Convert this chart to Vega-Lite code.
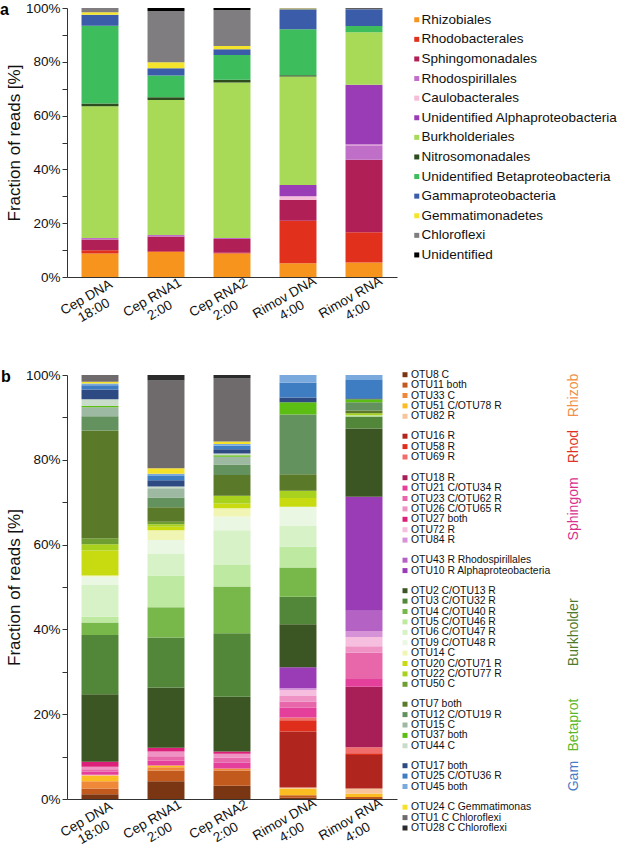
{
  "$schema": "https://vega.github.io/schema/vega-lite/v6.json",
  "padding": {"left": 0, "top": 1, "right": 0, "bottom": 0},
  "config": {
    "font": "Liberation Sans",
    "view": {"stroke": null},
    "axis": {"domainColor": "#333", "tickColor": "#333", "labelColor": "#111", "titleColor": "#111", "labelFontSize": 13.5, "titleFontWeight": "normal", "grid": false},
    "title": {"fontSize": 16, "fontWeight": "bold", "color": "#000", "anchor": "start", "frame": "group"}
  },
  "datasets": {
    "a": [
      {"s": "Cep DNA|18:00", "t": "Rhizobiales", "v": 8.7},
      {"s": "Cep DNA|18:00", "t": "Rhodobacterales", "v": 1.2},
      {"s": "Cep DNA|18:00", "t": "Sphingomonadales", "v": 4.0},
      {"s": "Cep DNA|18:00", "t": "Rhodospirillales", "v": 0.6},
      {"s": "Cep DNA|18:00", "t": "Burkholderiales", "v": 49.0},
      {"s": "Cep DNA|18:00", "t": "Nitrosomonadales", "v": 1.0},
      {"s": "Cep DNA|18:00", "t": "Unidentified Betaproteobacteria", "v": 28.9},
      {"s": "Cep DNA|18:00", "t": "Gammaproteobacteria", "v": 4.1},
      {"s": "Cep DNA|18:00", "t": "Gemmatimonadetes", "v": 0.9},
      {"s": "Cep DNA|18:00", "t": "Chloroflexi", "v": 1.6},
      {"s": "Cep RNA1|2:00", "t": "Rhizobiales", "v": 9.3},
      {"s": "Cep RNA1|2:00", "t": "Rhodobacterales", "v": 0.3},
      {"s": "Cep RNA1|2:00", "t": "Sphingomonadales", "v": 5.5},
      {"s": "Cep RNA1|2:00", "t": "Rhodospirillales", "v": 0.5},
      {"s": "Cep RNA1|2:00", "t": "Burkholderiales", "v": 50.2},
      {"s": "Cep RNA1|2:00", "t": "Nitrosomonadales", "v": 1.0},
      {"s": "Cep RNA1|2:00", "t": "Unidentified Betaproteobacteria", "v": 8.1},
      {"s": "Cep RNA1|2:00", "t": "Gammaproteobacteria", "v": 2.7},
      {"s": "Cep RNA1|2:00", "t": "Gemmatimonadetes", "v": 2.2},
      {"s": "Cep RNA1|2:00", "t": "Chloroflexi", "v": 19.1},
      {"s": "Cep RNA1|2:00", "t": "Unidentified", "v": 1.1},
      {"s": "Cep RNA2|2:00", "t": "Rhizobiales", "v": 8.7},
      {"s": "Cep RNA2|2:00", "t": "Rhodobacterales", "v": 0.3},
      {"s": "Cep RNA2|2:00", "t": "Sphingomonadales", "v": 5.1},
      {"s": "Cep RNA2|2:00", "t": "Rhodospirillales", "v": 0.4},
      {"s": "Cep RNA2|2:00", "t": "Burkholderiales", "v": 57.8},
      {"s": "Cep RNA2|2:00", "t": "Nitrosomonadales", "v": 1.0},
      {"s": "Cep RNA2|2:00", "t": "Unidentified Betaproteobacteria", "v": 9.2},
      {"s": "Cep RNA2|2:00", "t": "Gammaproteobacteria", "v": 2.2},
      {"s": "Cep RNA2|2:00", "t": "Gemmatimonadetes", "v": 1.2},
      {"s": "Cep RNA2|2:00", "t": "Chloroflexi", "v": 13.4},
      {"s": "Cep RNA2|2:00", "t": "Unidentified", "v": 0.7},
      {"s": "Rimov DNA|4:00", "t": "Rhizobiales", "v": 5.1},
      {"s": "Rimov DNA|4:00", "t": "Rhodobacterales", "v": 15.8},
      {"s": "Rimov DNA|4:00", "t": "Sphingomonadales", "v": 7.8},
      {"s": "Rimov DNA|4:00", "t": "Caulobacterales", "v": 1.3},
      {"s": "Rimov DNA|4:00", "t": "Unidentified Alphaproteobacteria", "v": 4.2},
      {"s": "Rimov DNA|4:00", "t": "Burkholderiales", "v": 40.3},
      {"s": "Rimov DNA|4:00", "t": "Nitrosomonadales", "v": 0.5},
      {"s": "Rimov DNA|4:00", "t": "Unidentified Betaproteobacteria", "v": 17.1},
      {"s": "Rimov DNA|4:00", "t": "Gammaproteobacteria", "v": 7.4},
      {"s": "Rimov DNA|4:00", "t": "Gemmatimonadetes", "v": 0.3},
      {"s": "Rimov DNA|4:00", "t": "Chloroflexi", "v": 0.2},
      {"s": "Rimov RNA|4:00", "t": "Rhizobiales", "v": 5.4},
      {"s": "Rimov RNA|4:00", "t": "Rhodobacterales", "v": 11.2},
      {"s": "Rimov RNA|4:00", "t": "Sphingomonadales", "v": 27.0},
      {"s": "Rimov RNA|4:00", "t": "Rhodospirillales", "v": 5.4},
      {"s": "Rimov RNA|4:00", "t": "Caulobacterales", "v": 0.3},
      {"s": "Rimov RNA|4:00", "t": "Unidentified Alphaproteobacteria", "v": 22.2},
      {"s": "Rimov RNA|4:00", "t": "Burkholderiales", "v": 19.5},
      {"s": "Rimov RNA|4:00", "t": "Unidentified Betaproteobacteria", "v": 2.3},
      {"s": "Rimov RNA|4:00", "t": "Gammaproteobacteria", "v": 6.2},
      {"s": "Rimov RNA|4:00", "t": "Chloroflexi", "v": 0.3},
      {"s": "Rimov RNA|4:00", "t": "Unidentified", "v": 0.2}
    ],
    "otus": [
      {"o": "OTU8 C", "g": "Rhizob"},
      {"o": "OTU11 both", "g": "Rhizob"},
      {"o": "OTU33 C", "g": "Rhizob"},
      {"o": "OTU51 C/OTU78 R", "g": "Rhizob"},
      {"o": "OTU82 R", "g": "Rhizob"},
      {"o": "OTU16 R", "g": "Rhod"},
      {"o": "OTU58 R", "g": "Rhod"},
      {"o": "OTU69 R", "g": "Rhod"},
      {"o": "OTU18 R", "g": "Sphingom"},
      {"o": "OTU21 C/OTU34 R", "g": "Sphingom"},
      {"o": "OTU23 C/OTU62 R", "g": "Sphingom"},
      {"o": "OTU26 C/OTU65 R", "g": "Sphingom"},
      {"o": "OTU27 both", "g": "Sphingom"},
      {"o": "OTU72 R", "g": "Sphingom"},
      {"o": "OTU84 R", "g": "Sphingom"},
      {"o": "OTU43 R Rhodospirillales", "g": "Alpha"},
      {"o": "OTU10 R Alphaproteobacteria", "g": "Alpha"},
      {"o": "OTU2 C/OTU13 R", "g": "Burkholder"},
      {"o": "OTU3 C/OTU32 R", "g": "Burkholder"},
      {"o": "OTU4 C/OTU40 R", "g": "Burkholder"},
      {"o": "OTU5 C/OTU46 R", "g": "Burkholder"},
      {"o": "OTU6 C/OTU47 R", "g": "Burkholder"},
      {"o": "OTU9 C/OTU48 R", "g": "Burkholder"},
      {"o": "OTU14 C", "g": "Burkholder"},
      {"o": "OTU20 C/OTU71 R", "g": "Burkholder"},
      {"o": "OTU22 C/OTU77 R", "g": "Burkholder"},
      {"o": "OTU50 C", "g": "Burkholder"},
      {"o": "OTU7 both", "g": "Betaprot"},
      {"o": "OTU12 C/OTU19 R", "g": "Betaprot"},
      {"o": "OTU15 C", "g": "Betaprot"},
      {"o": "OTU37 both", "g": "Betaprot"},
      {"o": "OTU44 C", "g": "Betaprot"},
      {"o": "OTU17 both", "g": "Gam"},
      {"o": "OTU25 C/OTU36 R", "g": "Gam"},
      {"o": "OTU45 both", "g": "Gam"},
      {"o": "OTU24 C Gemmatimonas", "g": "Other"},
      {"o": "OTU1 C Chloroflexi", "g": "Other"},
      {"o": "OTU28 C Chloroflexi", "g": "Other"}
    ],
    "b": [
      {"s": "Cep DNA|18:00", "o": "OTU8 C", "v": 1.1},
      {"s": "Cep DNA|18:00", "o": "OTU11 both", "v": 1.4},
      {"s": "Cep DNA|18:00", "o": "OTU33 C", "v": 1.7},
      {"s": "Cep DNA|18:00", "o": "OTU51 C/OTU78 R", "v": 1.2},
      {"s": "Cep DNA|18:00", "o": "OTU82 R", "v": 0.3},
      {"s": "Cep DNA|18:00", "o": "OTU21 C/OTU34 R", "v": 0.7},
      {"s": "Cep DNA|18:00", "o": "OTU23 C/OTU62 R", "v": 0.6},
      {"s": "Cep DNA|18:00", "o": "OTU26 C/OTU65 R", "v": 0.6},
      {"s": "Cep DNA|18:00", "o": "OTU27 both", "v": 1.2},
      {"s": "Cep DNA|18:00", "o": "OTU2 C/OTU13 R", "v": 15.9},
      {"s": "Cep DNA|18:00", "o": "OTU3 C/OTU32 R", "v": 14.0},
      {"s": "Cep DNA|18:00", "o": "OTU4 C/OTU40 R", "v": 2.9},
      {"s": "Cep DNA|18:00", "o": "OTU5 C/OTU46 R", "v": 1.4},
      {"s": "Cep DNA|18:00", "o": "OTU6 C/OTU47 R", "v": 7.5},
      {"s": "Cep DNA|18:00", "o": "OTU9 C/OTU48 R", "v": 1.9},
      {"s": "Cep DNA|18:00", "o": "OTU14 C", "v": 0.3},
      {"s": "Cep DNA|18:00", "o": "OTU20 C/OTU71 R", "v": 5.9},
      {"s": "Cep DNA|18:00", "o": "OTU22 C/OTU77 R", "v": 1.5},
      {"s": "Cep DNA|18:00", "o": "OTU50 C", "v": 1.4},
      {"s": "Cep DNA|18:00", "o": "OTU7 both", "v": 25.4},
      {"s": "Cep DNA|18:00", "o": "OTU12 C/OTU19 R", "v": 3.4},
      {"s": "Cep DNA|18:00", "o": "OTU15 C", "v": 2.1},
      {"s": "Cep DNA|18:00", "o": "OTU37 both", "v": 0.3},
      {"s": "Cep DNA|18:00", "o": "OTU44 C", "v": 1.6},
      {"s": "Cep DNA|18:00", "o": "OTU17 both", "v": 2.3},
      {"s": "Cep DNA|18:00", "o": "OTU25 C/OTU36 R", "v": 1.0},
      {"s": "Cep DNA|18:00", "o": "OTU45 both", "v": 0.4},
      {"s": "Cep DNA|18:00", "o": "OTU24 C Gemmatimonas", "v": 0.4},
      {"s": "Cep DNA|18:00", "o": "OTU1 C Chloroflexi", "v": 1.6},
      {"s": "Cep RNA1|2:00", "o": "OTU8 C", "v": 4.2},
      {"s": "Cep RNA1|2:00", "o": "OTU11 both", "v": 2.5},
      {"s": "Cep RNA1|2:00", "o": "OTU33 C", "v": 0.8},
      {"s": "Cep RNA1|2:00", "o": "OTU51 C/OTU78 R", "v": 0.4},
      {"s": "Cep RNA1|2:00", "o": "OTU21 C/OTU34 R", "v": 1.1},
      {"s": "Cep RNA1|2:00", "o": "OTU23 C/OTU62 R", "v": 1.1},
      {"s": "Cep RNA1|2:00", "o": "OTU26 C/OTU65 R", "v": 1.1},
      {"s": "Cep RNA1|2:00", "o": "OTU27 both", "v": 0.9},
      {"s": "Cep RNA1|2:00", "o": "OTU2 C/OTU13 R", "v": 14.2},
      {"s": "Cep RNA1|2:00", "o": "OTU3 C/OTU32 R", "v": 11.8},
      {"s": "Cep RNA1|2:00", "o": "OTU4 C/OTU40 R", "v": 7.1},
      {"s": "Cep RNA1|2:00", "o": "OTU5 C/OTU46 R", "v": 7.5},
      {"s": "Cep RNA1|2:00", "o": "OTU6 C/OTU47 R", "v": 5.1},
      {"s": "Cep RNA1|2:00", "o": "OTU9 C/OTU48 R", "v": 3.3},
      {"s": "Cep RNA1|2:00", "o": "OTU14 C", "v": 2.3},
      {"s": "Cep RNA1|2:00", "o": "OTU20 C/OTU71 R", "v": 0.8},
      {"s": "Cep RNA1|2:00", "o": "OTU22 C/OTU77 R", "v": 0.6},
      {"s": "Cep RNA1|2:00", "o": "OTU50 C", "v": 0.6},
      {"s": "Cep RNA1|2:00", "o": "OTU7 both", "v": 3.4},
      {"s": "Cep RNA1|2:00", "o": "OTU12 C/OTU19 R", "v": 2.3},
      {"s": "Cep RNA1|2:00", "o": "OTU15 C", "v": 2.2},
      {"s": "Cep RNA1|2:00", "o": "OTU44 C", "v": 0.4},
      {"s": "Cep RNA1|2:00", "o": "OTU17 both", "v": 1.5},
      {"s": "Cep RNA1|2:00", "o": "OTU25 C/OTU36 R", "v": 1.0},
      {"s": "Cep RNA1|2:00", "o": "OTU45 both", "v": 0.5},
      {"s": "Cep RNA1|2:00", "o": "OTU24 C Gemmatimonas", "v": 1.3},
      {"s": "Cep RNA1|2:00", "o": "OTU1 C Chloroflexi", "v": 20.7},
      {"s": "Cep RNA1|2:00", "o": "OTU28 C Chloroflexi", "v": 1.3},
      {"s": "Cep RNA2|2:00", "o": "OTU8 C", "v": 3.1},
      {"s": "Cep RNA2|2:00", "o": "OTU11 both", "v": 3.6},
      {"s": "Cep RNA2|2:00", "o": "OTU33 C", "v": 0.5},
      {"s": "Cep RNA2|2:00", "o": "OTU21 C/OTU34 R", "v": 1.4},
      {"s": "Cep RNA2|2:00", "o": "OTU23 C/OTU62 R", "v": 1.2},
      {"s": "Cep RNA2|2:00", "o": "OTU26 C/OTU65 R", "v": 0.9},
      {"s": "Cep RNA2|2:00", "o": "OTU27 both", "v": 0.5},
      {"s": "Cep RNA2|2:00", "o": "OTU2 C/OTU13 R", "v": 12.9},
      {"s": "Cep RNA2|2:00", "o": "OTU3 C/OTU32 R", "v": 15.0},
      {"s": "Cep RNA2|2:00", "o": "OTU4 C/OTU40 R", "v": 11.0},
      {"s": "Cep RNA2|2:00", "o": "OTU5 C/OTU46 R", "v": 5.1},
      {"s": "Cep RNA2|2:00", "o": "OTU6 C/OTU47 R", "v": 8.2},
      {"s": "Cep RNA2|2:00", "o": "OTU9 C/OTU48 R", "v": 3.2},
      {"s": "Cep RNA2|2:00", "o": "OTU14 C", "v": 2.0},
      {"s": "Cep RNA2|2:00", "o": "OTU20 C/OTU71 R", "v": 1.1},
      {"s": "Cep RNA2|2:00", "o": "OTU22 C/OTU77 R", "v": 1.8},
      {"s": "Cep RNA2|2:00", "o": "OTU7 both", "v": 4.9},
      {"s": "Cep RNA2|2:00", "o": "OTU12 C/OTU19 R", "v": 2.5},
      {"s": "Cep RNA2|2:00", "o": "OTU15 C", "v": 1.8},
      {"s": "Cep RNA2|2:00", "o": "OTU37 both", "v": 0.4},
      {"s": "Cep RNA2|2:00", "o": "OTU44 C", "v": 0.4},
      {"s": "Cep RNA2|2:00", "o": "OTU17 both", "v": 1.0},
      {"s": "Cep RNA2|2:00", "o": "OTU25 C/OTU36 R", "v": 0.8},
      {"s": "Cep RNA2|2:00", "o": "OTU45 both", "v": 0.4},
      {"s": "Cep RNA2|2:00", "o": "OTU24 C Gemmatimonas", "v": 0.6},
      {"s": "Cep RNA2|2:00", "o": "OTU1 C Chloroflexi", "v": 14.9},
      {"s": "Cep RNA2|2:00", "o": "OTU28 C Chloroflexi", "v": 0.8},
      {"s": "Rimov DNA|4:00", "o": "OTU8 C", "v": 0.3},
      {"s": "Rimov DNA|4:00", "o": "OTU11 both", "v": 0.6},
      {"s": "Rimov DNA|4:00", "o": "OTU51 C/OTU78 R", "v": 1.6},
      {"s": "Rimov DNA|4:00", "o": "OTU82 R", "v": 0.2},
      {"s": "Rimov DNA|4:00", "o": "OTU16 R", "v": 13.2},
      {"s": "Rimov DNA|4:00", "o": "OTU58 R", "v": 2.7},
      {"s": "Rimov DNA|4:00", "o": "OTU69 R", "v": 0.6},
      {"s": "Rimov DNA|4:00", "o": "OTU21 C/OTU34 R", "v": 2.3},
      {"s": "Rimov DNA|4:00", "o": "OTU23 C/OTU62 R", "v": 1.5},
      {"s": "Rimov DNA|4:00", "o": "OTU26 C/OTU65 R", "v": 1.3},
      {"s": "Rimov DNA|4:00", "o": "OTU72 R", "v": 1.4},
      {"s": "Rimov DNA|4:00", "o": "OTU84 R", "v": 0.4},
      {"s": "Rimov DNA|4:00", "o": "OTU10 R Alphaproteobacteria", "v": 5.0},
      {"s": "Rimov DNA|4:00", "o": "OTU2 C/OTU13 R", "v": 10.1},
      {"s": "Rimov DNA|4:00", "o": "OTU3 C/OTU32 R", "v": 6.5},
      {"s": "Rimov DNA|4:00", "o": "OTU4 C/OTU40 R", "v": 6.9},
      {"s": "Rimov DNA|4:00", "o": "OTU5 C/OTU46 R", "v": 4.9},
      {"s": "Rimov DNA|4:00", "o": "OTU6 C/OTU47 R", "v": 4.9},
      {"s": "Rimov DNA|4:00", "o": "OTU9 C/OTU48 R", "v": 4.5},
      {"s": "Rimov DNA|4:00", "o": "OTU20 C/OTU71 R", "v": 2.1},
      {"s": "Rimov DNA|4:00", "o": "OTU22 C/OTU77 R", "v": 1.7},
      {"s": "Rimov DNA|4:00", "o": "OTU7 both", "v": 3.9},
      {"s": "Rimov DNA|4:00", "o": "OTU12 C/OTU19 R", "v": 14.1},
      {"s": "Rimov DNA|4:00", "o": "OTU37 both", "v": 2.9},
      {"s": "Rimov DNA|4:00", "o": "OTU17 both", "v": 1.1},
      {"s": "Rimov DNA|4:00", "o": "OTU25 C/OTU36 R", "v": 3.5},
      {"s": "Rimov DNA|4:00", "o": "OTU45 both", "v": 1.8},
      {"s": "Rimov RNA|4:00", "o": "OTU11 both", "v": 0.5},
      {"s": "Rimov RNA|4:00", "o": "OTU51 C/OTU78 R", "v": 0.8},
      {"s": "Rimov RNA|4:00", "o": "OTU82 R", "v": 1.2},
      {"s": "Rimov RNA|4:00", "o": "OTU16 R", "v": 7.9},
      {"s": "Rimov RNA|4:00", "o": "OTU58 R", "v": 0.4},
      {"s": "Rimov RNA|4:00", "o": "OTU69 R", "v": 1.4},
      {"s": "Rimov RNA|4:00", "o": "OTU18 R", "v": 14.3},
      {"s": "Rimov RNA|4:00", "o": "OTU21 C/OTU34 R", "v": 1.8},
      {"s": "Rimov RNA|4:00", "o": "OTU23 C/OTU62 R", "v": 6.2},
      {"s": "Rimov RNA|4:00", "o": "OTU26 C/OTU65 R", "v": 1.5},
      {"s": "Rimov RNA|4:00", "o": "OTU72 R", "v": 2.2},
      {"s": "Rimov RNA|4:00", "o": "OTU84 R", "v": 1.4},
      {"s": "Rimov RNA|4:00", "o": "OTU43 R Rhodospirillales", "v": 4.8},
      {"s": "Rimov RNA|4:00", "o": "OTU10 R Alphaproteobacteria", "v": 26.9},
      {"s": "Rimov RNA|4:00", "o": "OTU2 C/OTU13 R", "v": 16.1},
      {"s": "Rimov RNA|4:00", "o": "OTU3 C/OTU32 R", "v": 2.8},
      {"s": "Rimov RNA|4:00", "o": "OTU5 C/OTU46 R", "v": 0.3},
      {"s": "Rimov RNA|4:00", "o": "OTU22 C/OTU77 R", "v": 0.5},
      {"s": "Rimov RNA|4:00", "o": "OTU7 both", "v": 0.6},
      {"s": "Rimov RNA|4:00", "o": "OTU12 C/OTU19 R", "v": 2.0},
      {"s": "Rimov RNA|4:00", "o": "OTU37 both", "v": 0.7},
      {"s": "Rimov RNA|4:00", "o": "OTU17 both", "v": 0.2},
      {"s": "Rimov RNA|4:00", "o": "OTU25 C/OTU36 R", "v": 4.3},
      {"s": "Rimov RNA|4:00", "o": "OTU45 both", "v": 1.2}
    ]
  },
  "spacing": 34,
  "resolve": {"scale": {"color": "independent"}, "legend": {"color": "independent"}},
  "vconcat": [
    {
      "data": {"name": "a"},
      "transform": [
        {"calculate": "indexof(['Rhizobiales', 'Rhodobacterales', 'Sphingomonadales', 'Rhodospirillales', 'Caulobacterales', 'Unidentified Alphaproteobacteria', 'Burkholderiales', 'Nitrosomonadales', 'Unidentified Betaproteobacteria', 'Gammaproteobacteria', 'Gemmatimonadetes', 'Chloroflexi', 'Unidentified'], datum.t)", "as": "k"}
      ],
      "width": 330,
      "height": 269,
      "title": {"text": "a", "dx": -67, "offset": -17},
      "mark": {"type": "bar"},
      "encoding": {
        "x": {
          "field": "s", "type": "nominal",
          "sort": ["Cep DNA|18:00", "Cep RNA1|2:00", "Cep RNA2|2:00", "Rimov DNA|4:00", "Rimov RNA|4:00"],
          "scale": {"paddingInner": 0.44, "paddingOuter": 0.22},
          "axis": {"title": null, "ticks": false, "labelAngle": -30, "labelAlign": "center", "labelBaseline": "top", "labelOffset": -17, "labelPadding": 14, "labelLineHeight": 15, "labelExpr": "split(datum.label, '|')"}
        },
        "y": {
          "field": "v", "type": "quantitative", "stack": "normalize",
          "scale": {"domain": [0, 1], "nice": false},
          "axis": {"title": "Fraction of reads [%]", "titleFontSize": 17, "titlePadding": 2, "tickSize": 5, "values": [0, 0.1, 0.2, 0.3, 0.4, 0.5, 0.6, 0.7, 0.8, 0.9, 1], "labelExpr": "round(datum.value * 100) % 20 == 0 ? format(datum.value, '.0%') : ''"}
        },
        "order": {"field": "k", "type": "quantitative", "sort": "ascending"},
        "color": {
          "field": "t", "type": "nominal",
          "scale": {
            "domain": ["Rhizobiales", "Rhodobacterales", "Sphingomonadales", "Rhodospirillales", "Caulobacterales", "Unidentified Alphaproteobacteria", "Burkholderiales", "Nitrosomonadales", "Unidentified Betaproteobacteria", "Gammaproteobacteria", "Gemmatimonadetes", "Chloroflexi", "Unidentified"],
            "range": ["#f7941e", "#e1301c", "#b01f56", "#c06fc8", "#f6bddb", "#9a3cb6", "#a8d957", "#2e4d1e", "#3dbd5c", "#3b5ca9", "#f4e52c", "#7f7d80", "#000000"]
          },
          "legend": {"title": null, "symbolType": "square", "symbolSize": 25, "symbolStrokeWidth": 0, "labelFontSize": 13.5, "labelColor": "#111", "rowPadding": 4.6, "offset": 8, "padding": 5, "labelOffset": -2, "labelLimit": 300}
        }
      }
    },
    {
      "title": {"text": "b", "dx": -66, "offset": -17},
      "spacing": 5,
      "hconcat": [
        {
          "vconcat": [
            {
              "data": {"name": "b"},
              "transform": [
                {"calculate": "indexof(['OTU8 C', 'OTU11 both', 'OTU33 C', 'OTU51 C/OTU78 R', 'OTU82 R', 'OTU16 R', 'OTU58 R', 'OTU69 R', 'OTU18 R', 'OTU21 C/OTU34 R', 'OTU23 C/OTU62 R', 'OTU26 C/OTU65 R', 'OTU27 both', 'OTU72 R', 'OTU84 R', 'OTU43 R Rhodospirillales', 'OTU10 R Alphaproteobacteria', 'OTU2 C/OTU13 R', 'OTU3 C/OTU32 R', 'OTU4 C/OTU40 R', 'OTU5 C/OTU46 R', 'OTU6 C/OTU47 R', 'OTU9 C/OTU48 R', 'OTU14 C', 'OTU20 C/OTU71 R', 'OTU22 C/OTU77 R', 'OTU50 C', 'OTU7 both', 'OTU12 C/OTU19 R', 'OTU15 C', 'OTU37 both', 'OTU44 C', 'OTU17 both', 'OTU25 C/OTU36 R', 'OTU45 both', 'OTU24 C Gemmatimonas', 'OTU1 C Chloroflexi', 'OTU28 C Chloroflexi'], datum.o)", "as": "k"}
              ],
              "width": 330,
              "height": 424,
              "mark": {"type": "bar"},
              "encoding": {
                "x": {
                  "field": "s", "type": "nominal",
                  "sort": ["Cep DNA|18:00", "Cep RNA1|2:00", "Cep RNA2|2:00", "Rimov DNA|4:00", "Rimov RNA|4:00"],
                  "scale": {"paddingInner": 0.44, "paddingOuter": 0.22},
                  "axis": {"title": null, "ticks": false, "labelAngle": -30, "labelAlign": "center", "labelBaseline": "top", "labelOffset": -17, "labelPadding": 14, "labelLineHeight": 15, "labelExpr": "split(datum.label, '|')"}
                },
                "y": {
                  "field": "v", "type": "quantitative", "stack": "normalize",
                  "scale": {"domain": [0, 1], "nice": false},
                  "axis": {"title": "Fraction of reads [%]", "titleFontSize": 17, "titlePadding": 2, "tickSize": 5, "values": [0, 0.1, 0.2, 0.3, 0.4, 0.5, 0.6, 0.7, 0.8, 0.9, 1], "labelExpr": "round(datum.value * 100) % 20 == 0 ? format(datum.value, '.0%') : ''"}
                },
                "order": {"field": "k", "type": "quantitative", "sort": "ascending"},
                "color": {
                  "field": "o", "type": "nominal",
                  "scale": {
                    "domain": ["OTU8 C", "OTU11 both", "OTU33 C", "OTU51 C/OTU78 R", "OTU82 R", "OTU16 R", "OTU58 R", "OTU69 R", "OTU18 R", "OTU21 C/OTU34 R", "OTU23 C/OTU62 R", "OTU26 C/OTU65 R", "OTU27 both", "OTU72 R", "OTU84 R", "OTU43 R Rhodospirillales", "OTU10 R Alphaproteobacteria", "OTU2 C/OTU13 R", "OTU3 C/OTU32 R", "OTU4 C/OTU40 R", "OTU5 C/OTU46 R", "OTU6 C/OTU47 R", "OTU9 C/OTU48 R", "OTU14 C", "OTU20 C/OTU71 R", "OTU22 C/OTU77 R", "OTU50 C", "OTU7 both", "OTU12 C/OTU19 R", "OTU15 C", "OTU37 both", "OTU44 C", "OTU17 both", "OTU25 C/OTU36 R", "OTU45 both", "OTU24 C Gemmatimonas", "OTU1 C Chloroflexi", "OTU28 C Chloroflexi"],
                    "range": ["#7a3512", "#c2591d", "#ef8838", "#fbbd22", "#f8c49c", "#b0251d", "#df2f1c", "#f06d6b", "#a81f58", "#e33f9b", "#e866aa", "#ee93c3", "#dc1f78", "#f6bfdf", "#d793d8", "#b463c4", "#9a3cb6", "#3b5622", "#52873a", "#78b84a", "#bde9a0", "#d6f2c6", "#eaf7e2", "#f1f5b4", "#c8da10", "#a9d21e", "#6f9f32", "#5b7a29", "#64925e", "#9db9a2", "#5cbd12", "#c9dcc9", "#2e4a82", "#3f7dc2", "#7aa9dd", "#f5e12a", "#6f6a6c", "#2b2b2b"]
                  },
                  "legend": null
                }
              }
            }
          ]
        },
        {
          "data": {"name": "otus"},
          "facet": {
            "row": {
              "field": "g", "type": "nominal", "title": null,
              "sort": ["Rhizob", "Rhod", "Sphingom", "Alpha", "Burkholder", "Betaprot", "Gam", "Other"],
              "header": {"labels": false}
            }
          },
          "bounds": "flush",
          "spacing": {"row": 9.5},
          "resolve": {"scale": {"y": "independent"}},
          "spec": {
            "width": 155,
            "height": {"step": 10.4},
            "layer": [
              {
                "mark": {"type": "point", "shape": "square", "filled": true, "size": 25, "opacity": 1, "yOffset": -5.5},
                "encoding": {
                  "y": {"field": "o", "type": "nominal", "sort": null, "axis": null},
                  "x": {"datum": 0, "type": "quantitative", "scale": {"domain": [0, 1]}, "axis": null},
                  "color": {
                    "field": "o", "type": "nominal",
                    "scale": {
                      "domain": ["OTU8 C", "OTU11 both", "OTU33 C", "OTU51 C/OTU78 R", "OTU82 R", "OTU16 R", "OTU58 R", "OTU69 R", "OTU18 R", "OTU21 C/OTU34 R", "OTU23 C/OTU62 R", "OTU26 C/OTU65 R", "OTU27 both", "OTU72 R", "OTU84 R", "OTU43 R Rhodospirillales", "OTU10 R Alphaproteobacteria", "OTU2 C/OTU13 R", "OTU3 C/OTU32 R", "OTU4 C/OTU40 R", "OTU5 C/OTU46 R", "OTU6 C/OTU47 R", "OTU9 C/OTU48 R", "OTU14 C", "OTU20 C/OTU71 R", "OTU22 C/OTU77 R", "OTU50 C", "OTU7 both", "OTU12 C/OTU19 R", "OTU15 C", "OTU37 both", "OTU44 C", "OTU17 both", "OTU25 C/OTU36 R", "OTU45 both", "OTU24 C Gemmatimonas", "OTU1 C Chloroflexi", "OTU28 C Chloroflexi"],
                      "range": ["#7a3512", "#c2591d", "#ef8838", "#fbbd22", "#f8c49c", "#b0251d", "#df2f1c", "#f06d6b", "#a81f58", "#e33f9b", "#e866aa", "#ee93c3", "#dc1f78", "#f6bfdf", "#d793d8", "#b463c4", "#9a3cb6", "#3b5622", "#52873a", "#78b84a", "#bde9a0", "#d6f2c6", "#eaf7e2", "#f1f5b4", "#c8da10", "#a9d21e", "#6f9f32", "#5b7a29", "#64925e", "#9db9a2", "#5cbd12", "#c9dcc9", "#2e4a82", "#3f7dc2", "#7aa9dd", "#f5e12a", "#6f6a6c", "#2b2b2b"]
                    },
                    "legend": null
                  }
                }
              },
              {
                "mark": {"type": "text", "align": "left", "dx": 6, "fontSize": 10.4, "color": "#111", "yOffset": -5.5},
                "encoding": {
                  "y": {"field": "o", "type": "nominal", "sort": null, "axis": null},
                  "x": {"datum": 0, "type": "quantitative", "scale": {"domain": [0, 1]}, "axis": null},
                  "text": {"field": "o"}
                }
              },
              {
                "transform": [
                  {"filter": "datum.g !== 'Alpha' && datum.g !== 'Other'"},
                  {"window": [{"op": "row_number", "as": "r"}], "groupby": ["g"]},
                  {"joinaggregate": [{"op": "count", "as": "n"}], "groupby": ["g"]},
                  {"filter": "datum.r === ceil(datum.n / 2)"}
                ],
                "mark": {
                  "type": "text", "angle": 270, "align": "center", "baseline": "middle", "fontSize": 14, "xOffset": 13.5, "yOffset": -5.5,
                  "color": {"expr": "datum.g === 'Rhizob' ? '#f0914a' : datum.g === 'Rhod' ? '#e0321f' : datum.g === 'Sphingom' ? '#d9308c' : datum.g === 'Burkholder' ? '#4f7a2c' : datum.g === 'Betaprot' ? '#5cb82a' : '#4a7bc4'"}
                },
                "encoding": {
                  "y": {"field": "o", "type": "nominal", "sort": null, "axis": null},
                  "x": {"datum": 1, "type": "quantitative", "scale": {"domain": [0, 1]}, "axis": null},
                  "text": {"field": "g"}
                }
              }
            ]
          }
        }
      ]
    }
  ]
}
